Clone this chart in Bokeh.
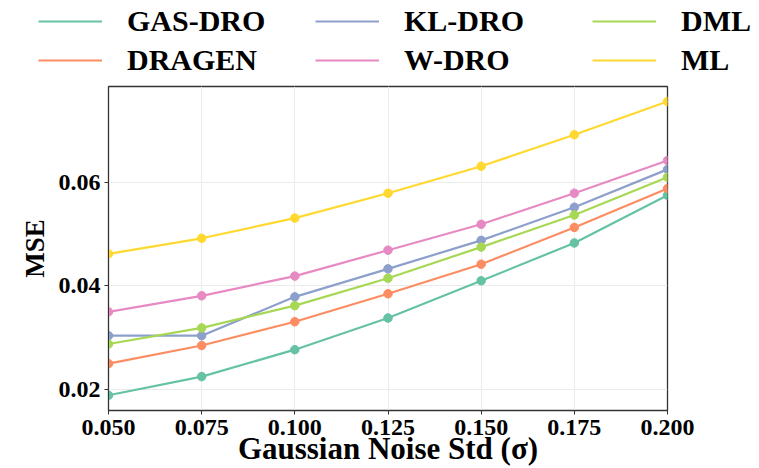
from bokeh.plotting import figure
from bokeh.models import ColumnDataSource, Legend, LegendItem, FixedTicker, NumeralTickFormatter, Range1d
from bokeh.embed import file_html
from bokeh.resources import INLINE

noise_std = [0.050, 0.075, 0.100, 0.125, 0.150, 0.175, 0.200]
gas_dro = [0.0189, 0.0225, 0.0277, 0.0338, 0.0410, 0.0483, 0.0575]
dragen = [0.0250, 0.0285, 0.0331, 0.0385, 0.0442, 0.0513, 0.0588]
kl_dro = [0.0304, 0.0304, 0.0379, 0.0433, 0.0488, 0.0552, 0.0625]
w_dro = [0.0350, 0.0381, 0.0419, 0.0469, 0.0519, 0.0579, 0.0642]
dml = [0.0288, 0.0319, 0.0362, 0.0415, 0.0475, 0.0537, 0.0610]
ml = [0.0462, 0.0492, 0.0531, 0.0579, 0.0631, 0.0692, 0.0756]

series_names = ["GAS-DRO", "DRAGEN", "KL-DRO", "W-DRO", "DML", "ML"]
series_values = [gas_dro, dragen, kl_dro, w_dro, dml, ml]
series_colors = ["#66c2a5", "#fc8d62", "#8da0cb", "#e78ac3", "#a6d854", "#ffd92f"]
# legend reads column by column: three columns of two rows
legend_order = ["GAS-DRO", "KL-DRO", "DML", "DRAGEN", "W-DRO", "ML"]

x_ticks = [0.050, 0.075, 0.100, 0.125, 0.150, 0.175, 0.200]
y_ticks = [0.02, 0.04, 0.06]

FONT = "Liberation Serif"

# ---- legend strip: its own root so the legend can extend beyond the plot frame ----
lf = figure(width=759, height=78, output_backend="svg", toolbar_location=None,
            x_axis_type=None, y_axis_type=None, x_range=Range1d(0, 1), y_range=Range1d(1, 2),
            min_border=0, outline_line_color=None)
lf.grid.visible = False
legend_renderers = {}
for name, vals, col in zip(series_names, series_values, series_colors):
    # same data as the chart, lying outside this strip's range, so only the legend shows
    legend_renderers[name] = lf.line(x=noise_std, y=vals, line_color=col, line_width=2.2)
legend = Legend(items=[LegendItem(label=n, renderers=[legend_renderers[n]]) for n in legend_order],
                orientation="horizontal", ncols=3,
                location=(38, 1), glyph_width=64, glyph_height=20,
                label_standoff=25, label_width=183, spacing=5, padding=0, margin=0,
                label_text_font=FONT, label_text_font_style="bold", label_text_font_size="30px",
                label_text_color="#000000", background_fill_alpha=0, border_line_alpha=0)
lf.add_layout(legend, "center")

# ---- main plot ----
p = figure(width=759, height=390, output_backend="svg", toolbar_location=None,
           x_range=Range1d(0.05, 0.2), y_range=Range1d(0.01596, 0.0785),
           min_border_left=108, min_border_right=92, min_border_top=8, min_border_bottom=57)

for name, vals, col in zip(series_names, series_values, series_colors):
    src = ColumnDataSource(dict(x=noise_std, y=vals))
    p.line("x", "y", source=src, line_color=col, line_width=2.2)
    p.scatter("x", "y", source=src, size=8.5, fill_color=col, line_color=col)

p.xaxis.ticker = FixedTicker(ticks=x_ticks)
p.yaxis.ticker = FixedTicker(ticks=y_ticks)
p.xaxis.formatter = NumeralTickFormatter(format="0.000")
p.yaxis.formatter = NumeralTickFormatter(format="0.00")

for ax in (p.xaxis, p.yaxis):
    ax.major_label_text_font = FONT
    ax.major_label_text_font_style = "bold"
    ax.major_label_text_font_size = "24px"
    ax.major_label_text_color = "#000000"
    ax.axis_label_text_font = FONT
    ax.axis_label_text_font_style = "bold"
    ax.axis_label_text_color = "#000000"
    ax.major_tick_in = 0
    ax.major_tick_out = 4
    ax.minor_tick_line_color = None
    ax.axis_line_color = "#333333"
    ax.major_tick_line_color = "#333333"

p.xaxis.major_label_standoff = 5
p.yaxis.major_label_standoff = 4
p.xaxis.axis_label = "Gaussian Noise Std (σ)"
p.xaxis.axis_label_text_font_size = "31px"
p.xaxis.axis_label_standoff = -7
p.yaxis.axis_label = "MSE"
p.yaxis.axis_label_text_font_size = "27px"
p.yaxis.axis_label_standoff = 6

p.xgrid.grid_line_color = "#ebebeb"
p.ygrid.grid_line_color = "#ebebeb"
p.outline_line_color = "#333333"
p.outline_line_width = 1.3
p.background_fill_color = "white"

open("out.html", "w").write(file_html([lf, p], INLINE))
